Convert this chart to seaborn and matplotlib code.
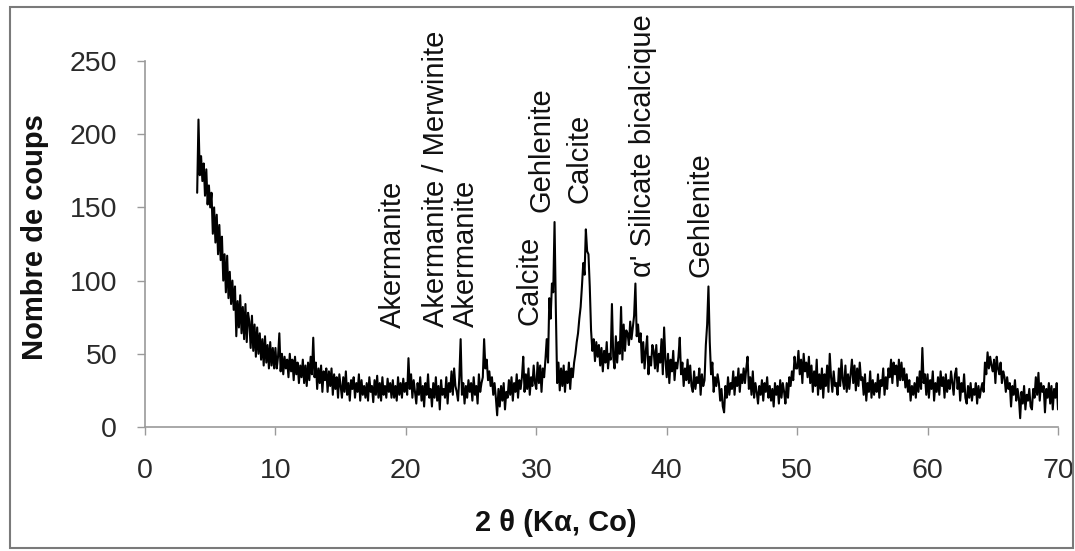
import numpy as np
import pandas as pd
import matplotlib
matplotlib.use("Agg")
import matplotlib.pyplot as plt
from matplotlib.patches import Rectangle
import seaborn as sns

# Diffractogram sampled every 0.1 degree from 4 to 70 degrees 2-theta
theta_start = 4.0
theta_step = 0.1
counts = [
    160, 210, 172, 185, 168, 180, 158, 176, 152, 165,   # 4
    150, 160, 132, 150, 126, 145, 118, 138, 114, 130,   # 5
    100, 118, 92, 117, 88, 106, 84, 100, 80, 96,        # 6
    62, 86, 68, 90, 64, 82, 60, 84, 58, 78,             # 7
    72, 54, 76, 52, 70, 48, 68, 50, 64, 46,             # 8
    60, 42, 62, 44, 56, 40, 58, 42, 54, 40,             # 9
    54, 40, 48, 64, 38, 50, 36, 48, 40, 46,             # 10
    34, 50, 38, 46, 32, 48, 36, 44, 30, 42,             # 11
    34, 46, 30, 42, 28, 44, 32, 48, 36, 61,             # 12
    34, 44, 26, 40, 30, 42, 24, 38, 32, 40,             # 13
    24, 38, 28, 40, 22, 36, 26, 34, 20, 36,             # 14
    28, 20, 34, 24, 38, 22, 30, 18, 32, 26,             # 15
    34, 20, 30, 24, 36, 18, 32, 22, 28, 20,             # 16
    30, 18, 34, 24, 28, 17, 32, 22, 35, 20,             # 17
    30, 18, 34, 22, 28, 20, 33, 24, 30, 20,             # 18
    32, 20, 28, 18, 34, 22, 30, 20, 33, 24,             # 19
    30, 22, 47, 26, 36, 20, 32, 24, 16, 30,             # 20
    22, 34, 18, 28, 14, 30, 22, 36, 20, 26,             # 21
    14, 30, 20, 34, 18, 28, 12, 32, 22, 26,             # 22
    20, 34, 16, 30, 24, 38, 22, 40, 28, 24,             # 23
    18, 34, 60, 22, 30, 16, 28, 20, 32, 24,             # 24
    30, 18, 34, 22, 28, 16, 36, 24, 30, 34,             # 25
    60, 40, 46, 32, 38, 28, 34, 22, 30, 20,             # 26
    8, 26, 14, 28, 18, 30, 12, 24, 20, 32,              # 27
    22, 34, 18, 30, 24, 36, 20, 32, 26, 34,             # 28
    48, 24, 36, 26, 40, 22, 34, 28, 42, 30,             # 29
    26, 44, 30, 42, 24, 40, 34, 46, 60, 44,             # 30
    88, 74, 98, 92, 140, 80, 30, 44, 25, 40,            # 31
    28, 42, 24, 38, 30, 44, 26, 40, 34, 44,             # 32
    50, 58, 64, 74, 82, 96, 112, 104, 135, 120,         # 33
    118, 96, 66, 52, 60, 45, 58, 48, 56, 42,            # 34
    54, 38, 52, 44, 58, 40, 50, 46, 84, 48,             # 35
    40, 62, 44, 58, 50, 82, 46, 70, 52, 66,             # 36
    64, 56, 72, 60, 68, 76, 98, 62, 70, 58,             # 37
    64, 44, 58, 40, 52, 62, 36, 48, 42, 56,             # 38
    52, 40, 56, 38, 50, 44, 60, 36, 68, 46,             # 39
    34, 50, 30, 46, 38, 52, 32, 44, 40, 48,             # 40
    61, 36, 44, 28, 40, 32, 46, 30, 42, 28,             # 41
    24, 38, 26, 34, 30, 40, 22, 36, 28, 32,             # 42
    56, 70, 96, 58, 36, 44, 24, 34, 28, 36,             # 43
    30, 18, 26, 14, 10, 28, 20, 34, 22, 30,             # 44
    26, 38, 22, 34, 28, 40, 24, 36, 30, 40,             # 45
    30, 40, 48, 26, 34, 22, 38, 20, 30, 24,             # 46
    16, 28, 22, 32, 18, 30, 24, 34, 20, 28,             # 47
    18, 26, 14, 30, 22, 28, 16, 32, 20, 30,             # 48
    24, 16, 30, 20, 34, 28, 38, 32, 48, 40,             # 49
    40, 52, 36, 46, 30, 50, 38, 44, 34, 48,             # 50
    30, 42, 24, 38, 28, 46, 22, 36, 26, 40,             # 51
    20, 36, 28, 42, 24, 50, 34, 24, 38, 28,             # 52
    30, 22, 40, 28, 46, 32, 26, 42, 24, 36,             # 53
    26, 36, 46, 30, 42, 25, 40, 28, 44, 32,             # 54
    34, 22, 36, 18, 30, 24, 38, 20, 32, 22,             # 55
    30, 24, 36, 20, 32, 28, 40, 22, 34, 26,             # 56
    40, 34, 46, 30, 44, 36, 42, 28, 46, 32,             # 57
    44, 32, 40, 27, 36, 24, 32, 18, 28, 22,             # 58
    30, 20, 34, 24, 38, 26, 54, 30, 36, 22,             # 59
    36, 20, 32, 26, 38, 18, 30, 24, 34, 22,             # 60
    38, 28, 34, 20, 36, 24, 32, 26, 38, 30,             # 61
    22, 36, 40, 26, 34, 18, 30, 24, 36, 20,             # 62
    16, 28, 20, 30, 18, 26, 22, 30, 16, 28,             # 63
    20, 26, 30, 24, 44, 36, 51, 40, 48, 42,             # 64
    38, 46, 30, 48, 40, 36, 44, 30, 38, 34,             # 65
    24, 34, 26, 30, 14, 28, 22, 32, 18, 26,             # 66
    20, 6, 24, 16, 28, 12, 22, 18, 26, 14,              # 67
    12, 26, 20, 34, 22, 37, 18, 30, 24, 28,             # 68
    10, 26, 20, 30, 16, 28, 12, 26, 20, 30,             # 69
    12,                                                 # 70
]
two_theta = theta_start + theta_step * np.arange(len(counts))

# Phase labels: text, 2-theta position, count level at the foot of the label
phase_names = ["Akermanite", "Akermanite / Merwinite", "Akermanite", "Calcite",
               "Gehlenite", "Calcite", "α' Silicate bicalcique", "Gehlenite"]
phase_theta = [19.0, 22.3, 24.6, 29.5, 30.4, 33.3, 38.2, 42.6]
phase_level = [67.6, 68.3, 68.3, 69.7, 146.9, 153.0, 102.5, 102.5]

x_ticks = [0, 10, 20, 30, 40, 50, 60, 70]
y_ticks = [0, 50, 100, 150, 200, 250]

sns.set_style("white")
plt.rcParams["font.family"] = ["Liberation Sans", "DejaVu Sans"]

W, H = 1075, 551
fig = plt.figure(figsize=(W / 100, H / 100), dpi=100)
x0, x1 = 145, 1058
ax = fig.add_axes([x0 / W, 1 - 427 / H, (x1 - x0) / W, (427 - 61) / H])

df = pd.DataFrame({"two_theta": two_theta, "counts": counts})
sns.lineplot(data=df, x="two_theta", y="counts", color="black", lw=1.5,
             sort=False, estimator=None, ax=ax)

ax.set_xlim(0, 70)
ax.set_ylim(0, 250)
ax.set_xticks(x_ticks)
ax.set_yticks(y_ticks)
ax.set_xlabel("")
ax.set_ylabel("")
for side in ("top", "right"):
    ax.spines[side].set_visible(False)
for side in ("left", "bottom"):
    ax.spines[side].set_color("#9a9a9a")
    ax.spines[side].set_linewidth(1.2)
ax.tick_params(axis="y", direction="out", length=6, width=1, color="#9a9a9a",
               labelsize=20.5, labelcolor="#2a2a2a", pad=14, left=True)
ax.tick_params(axis="x", direction="out", length=6, width=1, color="#9a9a9a",
               labelsize=20.5, labelcolor="#2a2a2a", pad=16, bottom=True)

for name, th, lvl in zip(phase_names, phase_theta, phase_level):
    ax.text(th, lvl, name, rotation=90, ha="center", va="bottom",
            fontsize=21, color="#111111")

fig.text(35 / W, 1 - 237 / H, "Nombre de coups", rotation=90, ha="center",
         va="center", fontsize=21, fontweight="bold", color="#111111")
fig.text(556 / W, 1 - 523 / H, "2 θ (Kα, Co)", ha="center", va="center",
         fontsize=21, fontweight="bold", color="#111111")

# Outer frame around the chart area
fig.patches.append(Rectangle((10 / W, 1 - 548 / H), (1073 - 10) / W, (548 - 7) / H,
                             transform=fig.transFigure, fill=False,
                             edgecolor="#7a7a7a", lw=1.5))

fig.savefig("out.png", dpi=100)
